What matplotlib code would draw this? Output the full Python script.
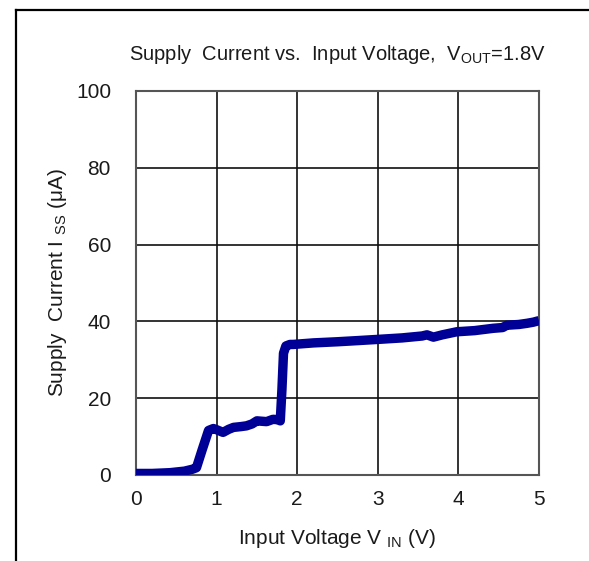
import numpy as np
import matplotlib.pyplot as plt
from matplotlib.lines import Line2D

plt.rcParams['font.family'] = ['Liberation Sans', 'DejaVu Sans']
plt.rcParams['mathtext.default'] = 'regular'

# =========================
# DATA
# =========================
vin = [0.0, 0.20, 0.42, 0.60, 0.70, 0.75, 0.82, 0.90, 0.96, 1.00, 1.08,
       1.15, 1.21, 1.30, 1.37, 1.44, 1.50, 1.56, 1.62, 1.70, 1.76, 1.79,
       1.81, 1.83, 1.86, 1.91, 1.95, 2.20, 2.50, 2.75, 2.99, 3.30, 3.55,
       3.61, 3.69, 3.80, 3.98, 4.20, 4.43, 4.55, 4.60, 4.75, 4.85, 4.93, 5.0]
iss = [0.4, 0.4, 0.6, 1.0, 1.5, 1.9, 6.5, 11.6, 12.1, 11.8, 11.1,
       11.9, 12.4, 12.6, 12.8, 13.3, 14.1, 14.0, 13.9, 14.5, 14.4, 14.1,
       22.0, 31.7, 33.6, 34.0, 34.0, 34.4, 34.7, 35.0, 35.3, 35.7, 36.2,
       36.5, 35.9, 36.5, 37.3, 37.6, 38.2, 38.4, 39.0, 39.2, 39.5, 39.8, 40.2]

x_ticks = [0, 1, 2, 3, 4, 5]
y_ticks = [0, 20, 40, 60, 80, 100]

# =========================
# FIGURE
# =========================
fig = plt.figure(figsize=(5.89, 5.61), dpi=100)
ax = fig.add_axes([136 / 589, 86 / 561, 403 / 589, 384 / 561])

ax.plot(vin, iss, color='#000096', lw=6.8, solid_capstyle='butt',
        solid_joinstyle='round', zorder=3)

ax.set_xlim(0, 5)
ax.set_ylim(0, 100)
ax.set_xticks(x_ticks)
ax.set_yticks(y_ticks)
ax.tick_params(length=0, labelsize=15, colors='#1a1a1a')
ax.tick_params(axis='x', pad=11)
ax.tick_params(axis='y', pad=18)
ax.grid(True, color='#111111', lw=1.2)
for sp in ax.spines.values():
    sp.set_color('#555555')
    sp.set_linewidth(1.5)

ax.set_title('Supply  Current vs.  Input Voltage,  V$_{OUT}$=1.8V',
             fontsize=14.5, pad=22, color='#1a1a1a')
ax.set_xlabel('Input Voltage V $_{IN}$ (V)', fontsize=15, labelpad=13,
              color='#1a1a1a')
ax.set_ylabel('Supply  Current I $_{SS}$ (μA)', fontsize=15, labelpad=5,
              color='#1a1a1a')

# outer frame (top and left edges only visible)
fig.add_artist(Line2D([15.5 / 589, 1.0], [1 - 10 / 561, 1 - 10 / 561],
                      color='black', lw=1.6, transform=fig.transFigure))
fig.add_artist(Line2D([15.5 / 589, 15.5 / 589], [0.0, 1 - 10 / 561],
                      color='black', lw=1.6, transform=fig.transFigure))

fig.savefig('out.png', dpi=100)
